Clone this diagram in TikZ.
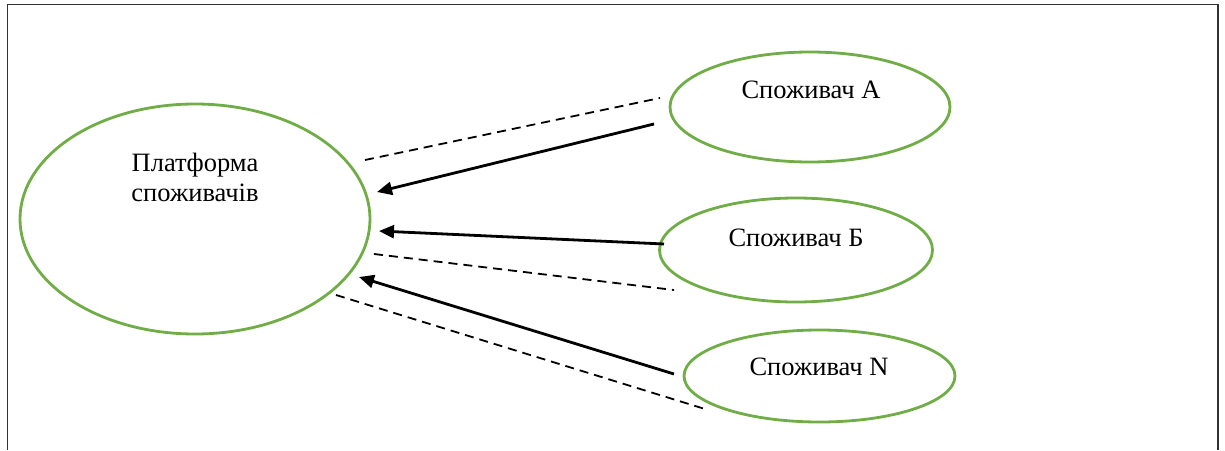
\documentclass[tikz,border=0pt]{standalone}
\usepackage{fontspec}
\setmainfont{Liberation Serif}
\usetikzlibrary{arrows.meta,shapes.geometric}
\definecolor{ellgreen}{HTML}{70AD47}
\begin{document}
\begin{tikzpicture}[x=1pt,y=-1pt,
  ell/.style={draw=ellgreen, line width=2.8pt, ellipse, inner sep=0pt},
  lbl/.style={anchor=base, inner sep=0pt, font=\fontsize{26.5}{31}\selectfont},
  arr/.style={line width=2.8pt, -{Triangle[length=15pt,width=13pt]}},
  dsh/.style={line width=1.8pt, dash pattern=on 9pt off 6pt},
  frame/.style={draw=black!80, line width=1.2pt}]
\useasboundingbox (0,0) rectangle (1225,450);
% frame
\draw[frame] (7.5,450) -- (7.5,4.5) -- (1218,4.5) -- (1218,450);
% ellipses
\node[ell, minimum width=350pt, minimum height=230pt] (plat) at (195,219) {};
\node[ell, minimum width=280pt, minimum height=110pt] (ca) at (810,107) {};
\node[ell, minimum width=273pt, minimum height=104pt] (cb) at (796,250) {};
\node[ell, minimum width=271pt, minimum height=92pt] (cn) at (819.5,376) {};
% labels
\node[lbl] (platt) at (195,171) {Платформа};
\node[lbl] (platt2) at (195,201) {споживачів};
\node[lbl] (cat) at (811,98) {Споживач А};
\node[lbl] (cbt) at (796,246) {Споживач Б};
\node[lbl] (cnt) at (819,375) {Споживач N};
% connector ends
\coordinate (d1a) at (365,160);  \coordinate (d1b) at (660,98);
\coordinate (aAs) at (654,124);  \coordinate (aAe) at (377,192);
\coordinate (aBs) at (664,244);  \coordinate (aBe) at (379,231);
\coordinate (d2a) at (374,254);  \coordinate (d2b) at (674,290);
\coordinate (aNs) at (674,374);  \coordinate (aNe) at (359,277);
\coordinate (d3a) at (336,295);  \coordinate (d3b) at (705,409);
% connectors
\draw[dsh] (d1a) -- (d1b);
\draw[arr] (aAs) -- (aAe);
\draw[arr] (aBs) -- (aBe);
\draw[dsh] (d2a) -- (d2b);
\draw[arr] (aNs) -- (aNe);
\draw[dsh] (d3a) -- (d3b);
\end{tikzpicture}
\end{document}
